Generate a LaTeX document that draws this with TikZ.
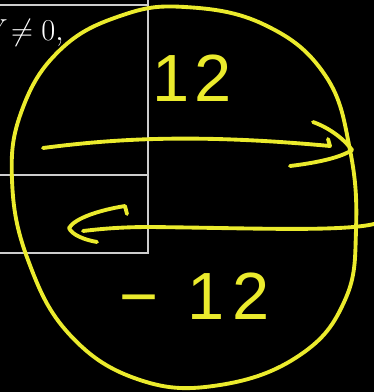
\documentclass[tikz,border=0pt]{standalone}
\usepackage{fontspec}
\newfontfamily\handfont{Liberation Sans}
\usepackage{tikz}
\usetikzlibrary{arrows.meta,positioning}
\definecolor{inkcol}{RGB}{235,235,45}
\definecolor{gridcol}{RGB}{205,205,205}

\begin{document}
\begin{tikzpicture}[x=0.02cm, y=-0.02cm, every node/.style={inner sep=0pt},
  ink/.style={inkcol, line width=2.2pt, line cap=round, line join=round},
  hand/.style={text=inkcol, font=\fontsize{38}{40}\handfont}]
  % Board 374x392
  \useasboundingbox (0,0) rectangle (374,392);
  \fill[black] (0,0) rectangle (374,392);
  \clip (0,0) rectangle (374,392);
  % Table lines
  \draw[gridcol, line width=1.5pt] (0,5) -- (148,5) (148,0) -- (148,253) -- (0,253) (0,175) -- (148,175);
  \node[anchor=base east, text=white, font=\fontsize{19}{22}\selectfont] (cond) at (64,40) {$V\!\neq0,$};
  % Circle
  \draw[ink] plot[smooth cycle, tension=0.7] coordinates {(185,7) (265,25) (325,75) (350,150) (356,230) (345,300) (300,355) (220,385) (140,380) (70,335) (28,260) (12,180) (22,110) (60,50) (120,16)};
  % Labels
  \node[hand] (pos) at (192,78) {1\kern3pt2};
  \node[hand] (neg) at (195,296) {−\hspace{16pt}1\kern5pt2};
  % Top arrow
  \draw[ink] (43,148) .. controls (120,138) and (200,134) .. (330,146) -- (328,139);
  \draw[ink] (313,122) .. controls (330,128) and (345,140) .. (352,150);
  \draw[ink] (290,166) .. controls (315,163) and (340,158) .. (352,150);
  % Bottom arrow
  \draw[ink] (374,224) .. controls (340,232) and (250,228) .. (150,227) .. controls (120,227) and (100,229) .. (83,231);
  \draw[ink] (127,214) -- (125,206) .. controls (100,210) and (75,218) .. (69,228) .. controls (72,235) and (85,240) .. (97,242);
\end{tikzpicture}
\end{document}
